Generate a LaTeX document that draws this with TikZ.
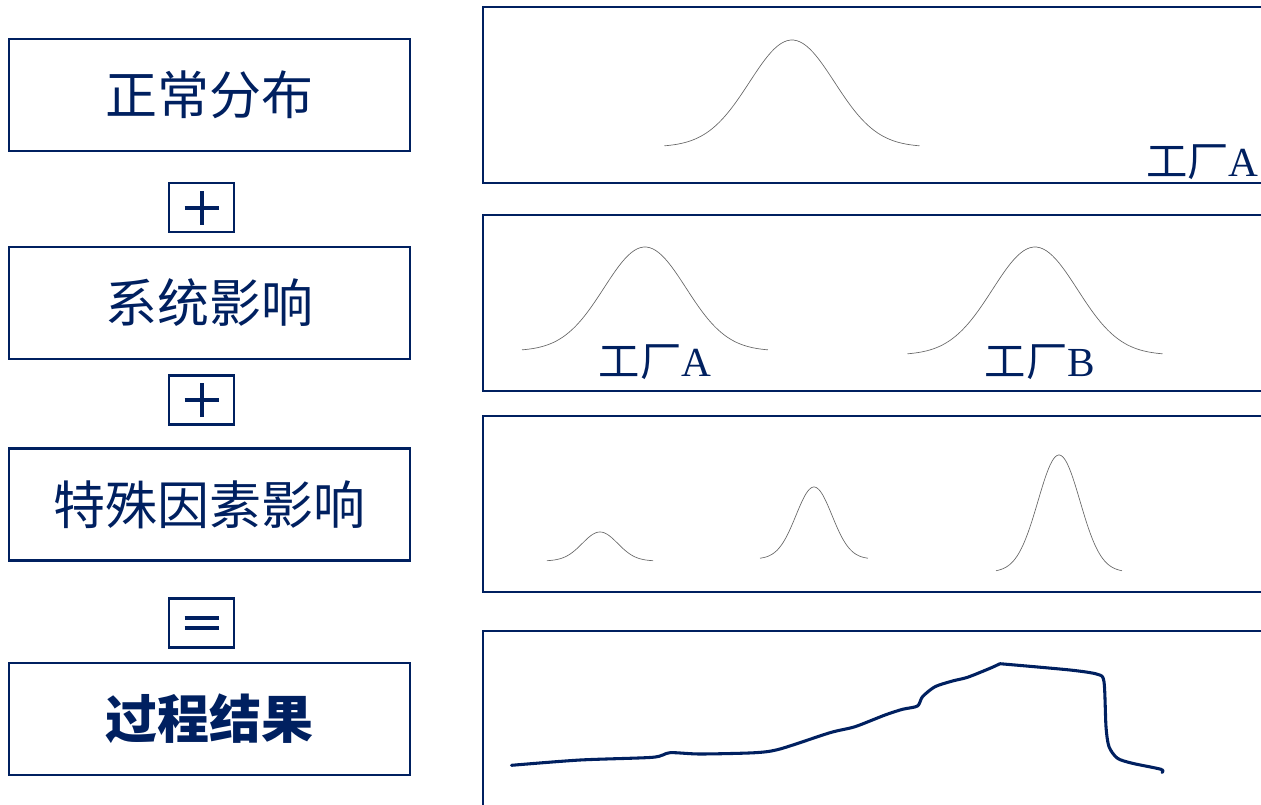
\documentclass[tikz,border=0pt]{standalone}
\usepackage{fontspec}
\setmainfont{Liberation Serif}
\newfontfamily\cjk{Noto Sans CJK SC}
\definecolor{navy}{HTML}{002060}
\begin{document}
\begin{tikzpicture}[x=0.75pt,y=-0.75pt,
  labelbox/.style={draw=navy, line width=1.8pt, minimum width=300.75pt, minimum height=84pt, inner sep=0pt, text=navy, font=\cjk\fontsize{39}{39}\selectfont},
  opbox/.style={draw=navy, line width=1.8pt, minimum width=48.75pt, minimum height=36.75pt, inner sep=0pt},
  opline/.style={draw=navy, line width=3pt},
  panel/.style={draw=navy, line width=2.2pt},
  bell/.style={draw=black!60, line width=0.5pt},
  plant/.style={text=navy, inner sep=0pt, font=\fontsize{31}{31}\selectfont},
  result/.style={draw=navy, line width=2.3pt, line join=round, line cap=round}]
\useasboundingbox (0,0) rectangle (1261,804);

% left column
\node[labelbox] (normal) at (209.5,95) {正常分布};
\node[opbox] (plus1) at (201.5,207.5) {};
\node[labelbox] (system) at (209.5,303) {系统影响};
\node[opbox] (plus2) at (201.5,400) {};
\node[labelbox] (special) at (209.5,504.5) {特殊因素影响};
\node[opbox] (equals) at (201.5,623) {};
\node[labelbox, font=\cjk\bfseries\fontsize{39}{39}\selectfont] (result) at (209.5,719) {过程结果};

% operator signs
\draw[opline] ([xshift=-12.75pt]plus1.center) -- ([xshift=12.75pt]plus1.center);
\draw[opline] ([yshift=-12.75pt]plus1.center) -- ([yshift=12.75pt]plus1.center);
\draw[opline] ([xshift=-12.75pt]plus2.center) -- ([xshift=12.75pt]plus2.center);
\draw[opline] ([yshift=-12.75pt]plus2.center) -- ([yshift=12.75pt]plus2.center);
\draw[opline] ([xshift=-12.75pt,yshift=3.75pt]equals.center) -- ([xshift=12.75pt,yshift=3.75pt]equals.center);
\draw[opline] ([xshift=-12.75pt,yshift=-3.75pt]equals.center) -- ([xshift=12.75pt,yshift=-3.75pt]equals.center);

% right panels (right edge is cut off)
\draw[panel] (1265,7) -| (483,183) -- (1265,183);
\draw[panel] (1265,215) -| (483,391) -- (1265,391);
\draw[panel] (1265,416) -| (483,592) -- (1265,592);
\draw[panel] (1265,631) -| (483,808);

% panel 1
\draw[bell] plot[domain=-3:3, samples=80] ({792+\x*42.5}, {147-107*exp(-\x*\x/2)});
\node[plant, anchor=east] (pA1) at (1259,162) {{\cjk 工厂}A};

% panel 2
\draw[bell] plot[domain=-3:3, samples=80] ({645+\x*41}, {351-104*exp(-\x*\x/2)});
\draw[bell] plot[domain=-3:3, samples=80] ({1035+\x*42.5}, {355-108*exp(-\x*\x/2)});
\node[plant] (pA2) at (655,362) {{\cjk 工厂}A};
\node[plant] (pB2) at (1040,362) {{\cjk 工厂}B};

% panel 3
\draw[bell] plot[domain=-3:3, samples=80] ({600+\x*17.7}, {561-29*exp(-\x*\x/2)});
\draw[bell] plot[domain=-3:3, samples=80] ({814+\x*18}, {559-72*exp(-\x*\x/2)});
\draw[bell] plot[domain=-3:3, samples=80] ({1059+\x*21}, {572-117*exp(-\x*\x/2)});

% panel 4
\draw[result] plot[smooth, tension=0.45] coordinates {
 (511.5,765.3) (580,760) (652.5,757.3) (670,752.7) (700,754) (755,752.7)
 (780,749) (830,732.7) (855,726.7) (885,715) (902.5,709.3) (917.5,706)
 (922.5,696.7) (935,686.7) (952.5,681) (967.5,677.3) (990,668.3) (1000,663.7)}
 plot[smooth, tension=0.45] coordinates {(1000,663.7)
 (1070,670) (1097.5,674.3) (1104,681.7) (1106,726.7) (1109,746.7)
 (1117.5,758.3) (1132.5,763.3) (1161,769.3) (1162,772.5)};
\end{tikzpicture}
\end{document}
